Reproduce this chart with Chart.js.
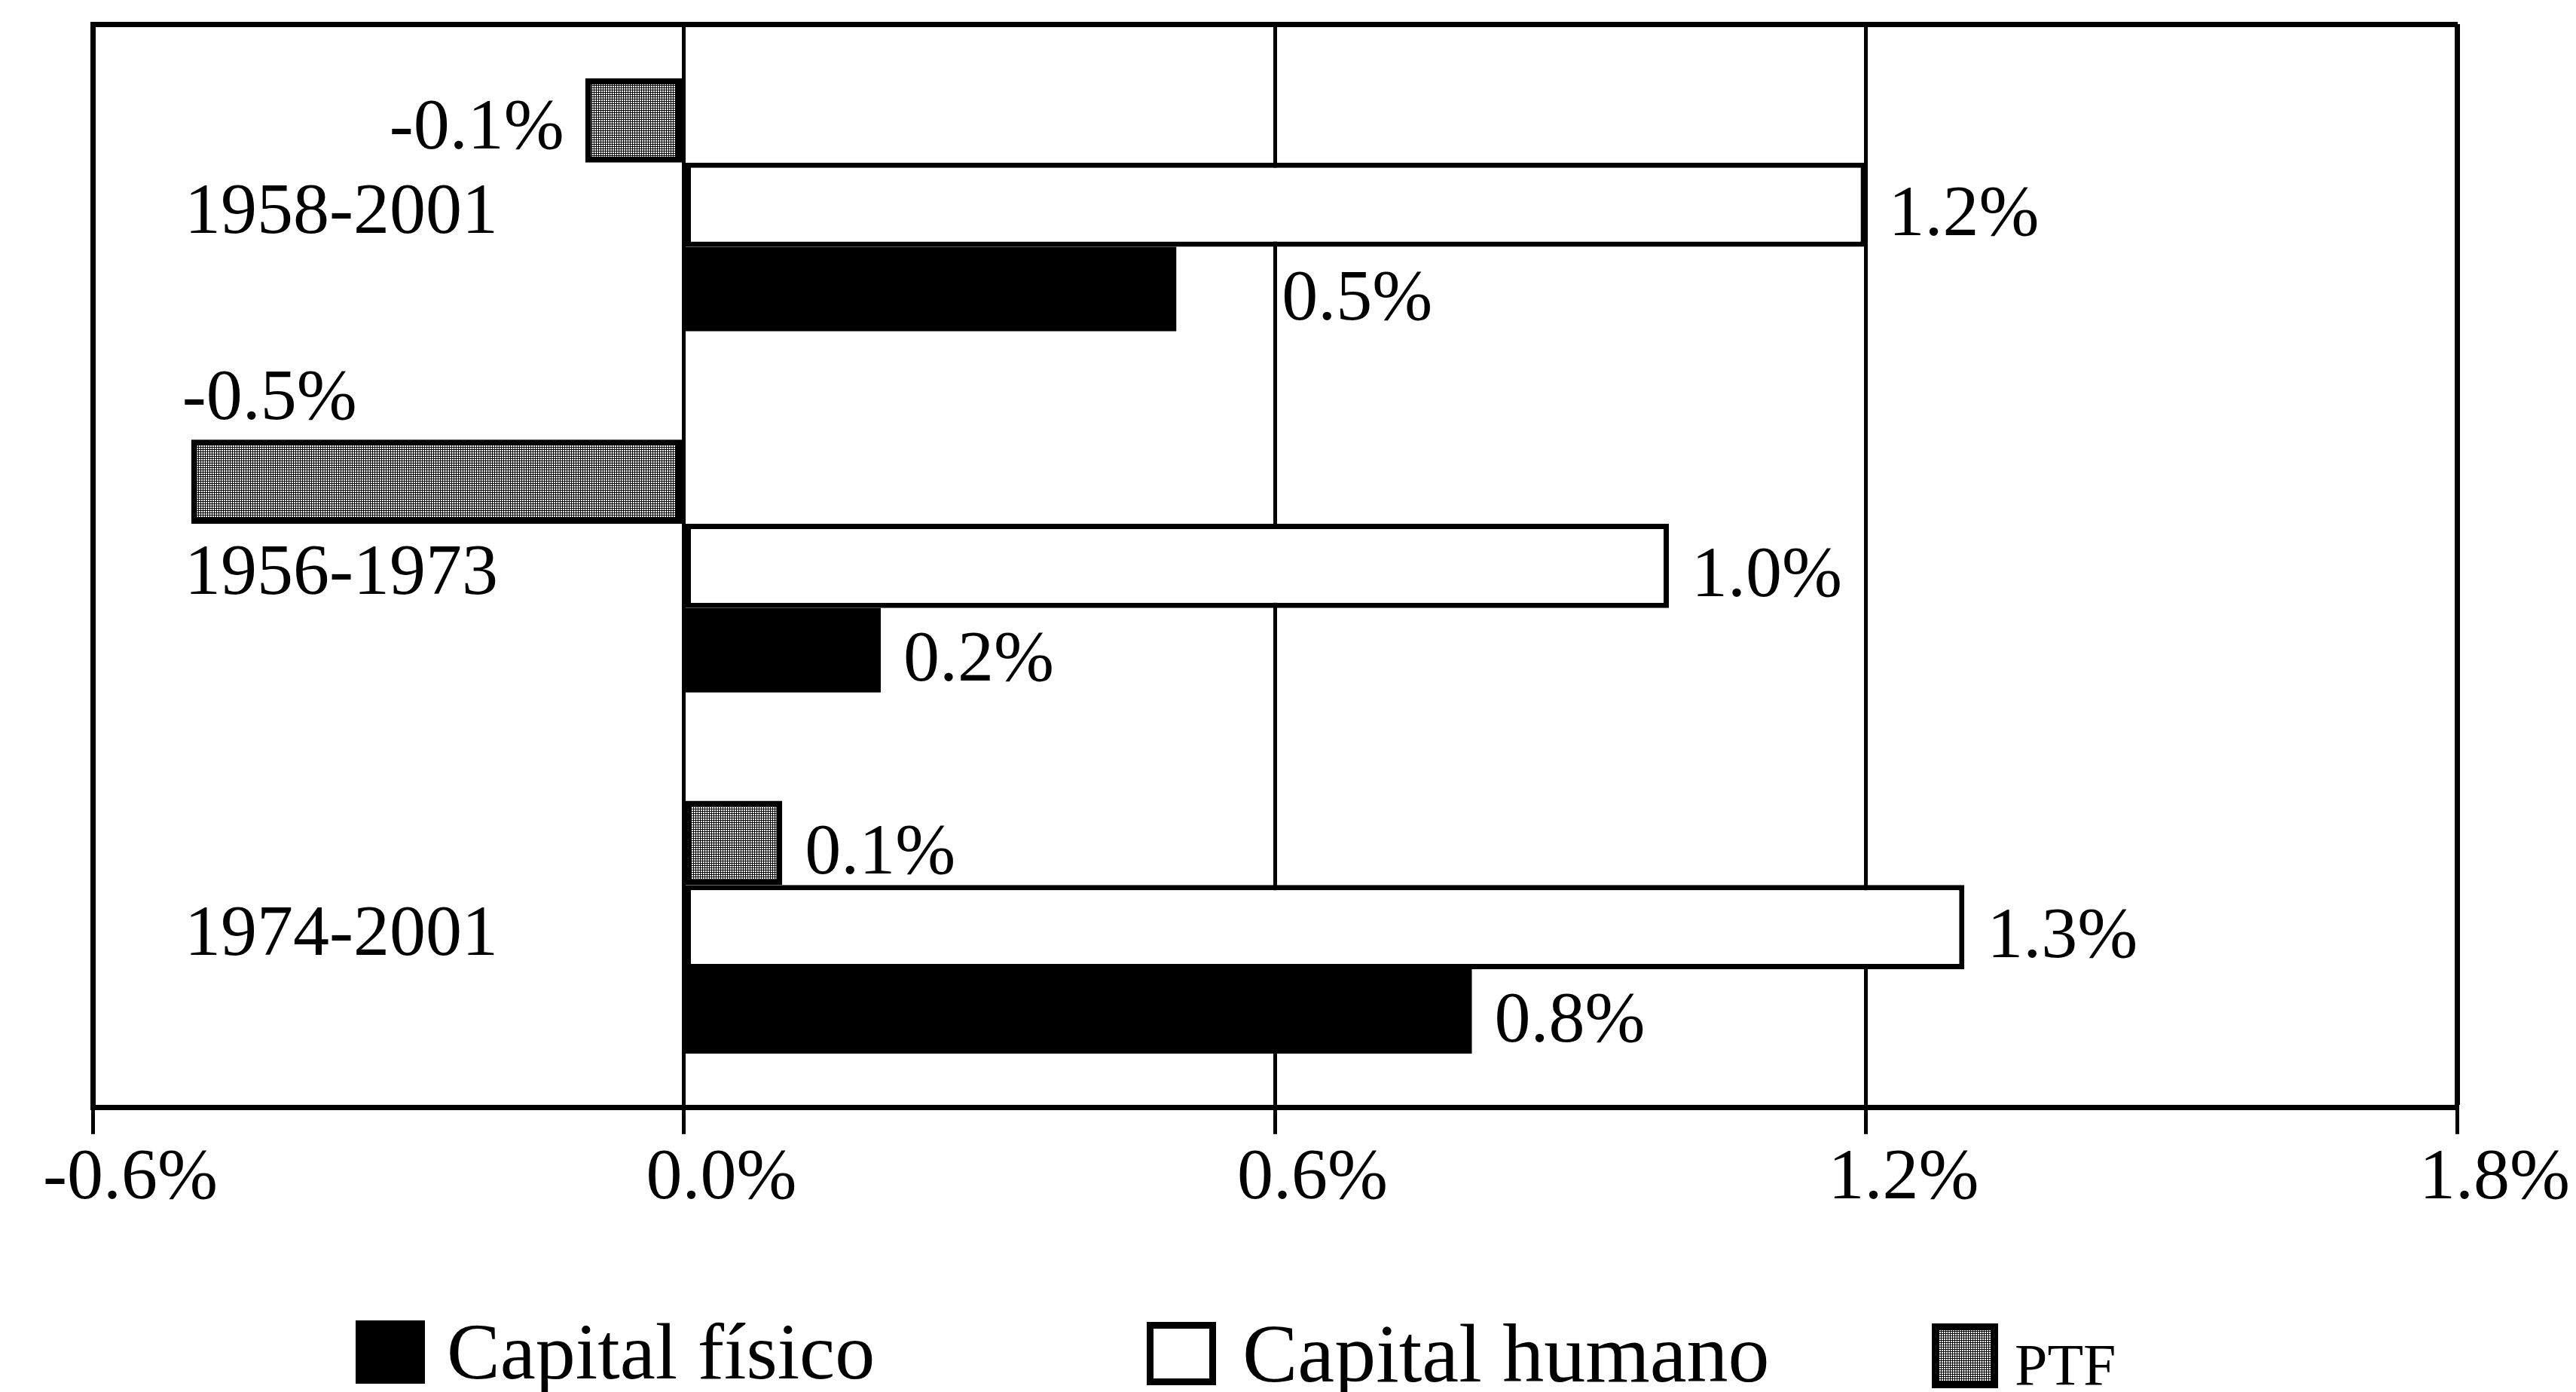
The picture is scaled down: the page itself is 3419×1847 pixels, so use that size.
<!DOCTYPE html>
<html lang="es">
<head>
<meta charset="UTF-8">
<title>Contribuciones al crecimiento</title>
<script src="https://cdn.jsdelivr.net/npm/chart.js"></script>
<style>
    body {
        margin: 0;
        background: #fff;
    }
    .contenedor {
        position: relative;
        width: 3419px;
        height: 1847px;
    }
</style>
</head>
<body>
<div class="contenedor">
    <canvas id="grafico"></canvas>
</div>

<script>
    // Datos (crecimiento anual, %)
    const periodos = ['1958-2001', '1956-1973', '1974-2001'];
    const ptf = [-0.1, -0.5, 0.1];
    const capitalHumano = [1.2, 1.0, 1.3];
    const capitalFisico = [0.5, 0.2, 0.8];
    const valoresEjeX = [-0.6, 0.0, 0.6, 1.2, 1.8];
    const etiquetasEjeX = ['-0.6%', '0.0%', '0.6%', '1.2%', '1.8%'];
    const nombresSeries = ['Capital físico', 'Capital humano', 'PTF'];

    const fuente = '"Liberation Serif", "Times New Roman", serif';
    Chart.defaults.font.family = fuente;
    Chart.defaults.color = '#000';

    const canvas = document.getElementById('grafico');
    const ctx = canvas.getContext('2d');

    // trama de puntos blancos sobre negro para la PTF
    function tramaGris() {
        const c = document.createElement('canvas');
        c.width = 3;
        c.height = 3;
        const g = c.getContext('2d');
        g.fillStyle = '#000';
        g.fillRect(0, 0, 3, 3);
        g.fillStyle = '#fff';
        g.fillRect(0, 0, 2, 2);
        return ctx.createPattern(c, 'repeat');
    }
    const trama = tramaGris();

    // etiquetas de valor junto a cada barra
    const ajustesEtiqueta = { '2-0': 110 };
    const etiquetasDatos = {
        id: 'etiquetasDatos',
        afterDatasetsDraw(chart) {
            const c = chart.ctx;
            const area = chart.chartArea;
            c.save();
            c.font = '96px ' + fuente;
            c.fillStyle = '#000';
            c.textBaseline = 'middle';
            chart.data.datasets.forEach((ds, i) => {
                chart.getDatasetMeta(i).data.forEach((barra, j) => {
                    const v = ds.data[j];
                    const texto = v.toFixed(1) + '%';
                    const ancho = c.measureText(texto).width;
                    const p = barra.getProps(['x', 'y', 'height'], true);
                    const extra = ajustesEtiqueta[i + '-' + j] || 0;
                    if (v >= 0) {
                        c.textAlign = 'left';
                        c.fillText(texto, p.x + 30 + extra, p.y + 15);
                    } else if (p.x - 30 - ancho > area.left) {
                        c.textAlign = 'right';
                        c.fillText(texto, p.x - 28, p.y + 12);
                    } else {
                        c.textAlign = 'left';
                        c.fillText(texto, p.x - 12, p.y - p.height / 2 - 52);
                    }
                });
            });
            c.restore();
        }
    };

    // nombres de los periodos dentro del area
    const etiquetasPeriodo = {
        id: 'etiquetasPeriodo',
        afterDraw(chart) {
            const c = chart.ctx;
            const ejeY = chart.scales.y;
            c.save();
            c.font = '96px ' + fuente;
            c.fillStyle = '#000';
            c.textAlign = 'left';
            c.textBaseline = 'middle';
            periodos.forEach((p, i) => {
                c.fillText(p, chart.chartArea.left + 122, ejeY.getPixelForTick(i) + 12);
            });
            c.restore();
        }
    };

    // leyenda inferior
    const leyenda = {
        id: 'leyenda',
        afterDraw(chart) {
            const c = chart.ctx;
            const items = [
                { caja: [472, 1752, 92, 84], relleno: '#000', borde: 0, texto: [593, 1829], tam: 106 },
                { caja: [1522, 1754, 92, 84], relleno: '#fff', borde: 9, texto: [1649, 1833], tam: 110 },
                { caja: [2564, 1756, 88, 86], relleno: trama, borde: 9, texto: [2674, 1837], tam: 78 }
            ];
            c.save();
            items.forEach((it, k) => {
                const [x, y, w, h] = it.caja;
                c.fillStyle = it.relleno;
                c.fillRect(x, y, w, h);
                if (it.borde) {
                    c.lineWidth = it.borde;
                    c.strokeStyle = '#000';
                    c.strokeRect(x + it.borde / 2, y + it.borde / 2, w - it.borde, h - it.borde);
                }
                c.fillStyle = '#000';
                c.font = it.tam + 'px ' + fuente;
                c.textAlign = 'left';
                c.textBaseline = 'alphabetic';
                c.fillText(nombresSeries[k], it.texto[0], it.texto[1]);
            });
            c.restore();
        }
    };

    const config = {
        type: 'bar',
        data: {
            labels: periodos,
            datasets: [
                {
                    label: 'PTF',
                    data: ptf,
                    backgroundColor: trama,
                    borderColor: '#000',
                    borderWidth: 8,
                    borderSkipped: false
                },
                {
                    label: 'Capital humano',
                    data: capitalHumano,
                    backgroundColor: '#fff',
                    borderColor: '#000',
                    borderWidth: 7,
                    borderSkipped: false
                },
                {
                    label: 'Capital físico',
                    data: capitalFisico,
                    backgroundColor: '#000',
                    borderWidth: 0
                }
            ]
        },
        options: {
            indexAxis: 'y',
            responsive: true,
            maintainAspectRatio: false,
            animation: false,
            layout: {
                padding: { left: 115, right: 158, top: 24, bottom: 223 }
            },
            datasets: {
                bar: { categoryPercentage: 0.70, barPercentage: 1 }
            },
            plugins: {
                legend: { display: false },
                tooltip: { enabled: false }
            },
            scales: {
                x: {
                    type: 'linear',
                    position: 'bottom',
                    min: -0.6,
                    max: 1.8,
                    afterBuildTicks: eje => {
                        eje.ticks = valoresEjeX.map(v => ({ value: v }));
                    },
                    grid: {
                        color: '#000',
                        lineWidth: c => {
                            if (!c.tick) return 5;
                            if (c.tick.value === 1.8) return 7;
                            return 5;
                        },
                        drawTicks: true,
                        tickLength: 35,
                        tickWidth: 5,
                        tickColor: '#000'
                    },
                    border: { display: true, color: '#000', width: 7 },
                    ticks: {
                        callback: (v, i) => etiquetasEjeX[i],
                        font: { size: 96 },
                        color: '#000',
                        padding: 2,
                        labelOffset: 50,
                        maxRotation: 0,
                        autoSkip: false
                    }
                },
                xArriba: {
                    axis: 'x',
                    type: 'linear',
                    position: 'top',
                    min: -0.6,
                    max: 1.8,
                    grid: { display: false },
                    ticks: { display: false },
                    border: { display: true, color: '#000', width: 7 }
                },
                y: {
                    type: 'category',
                    grid: { display: false },
                    ticks: { display: false },
                    border: { display: true, color: '#000', width: 7 }
                }
            }
        },
        plugins: [etiquetasDatos, etiquetasPeriodo, leyenda]
    };

    const grafico = new Chart(ctx, config);
</script>
</body>
</html>
